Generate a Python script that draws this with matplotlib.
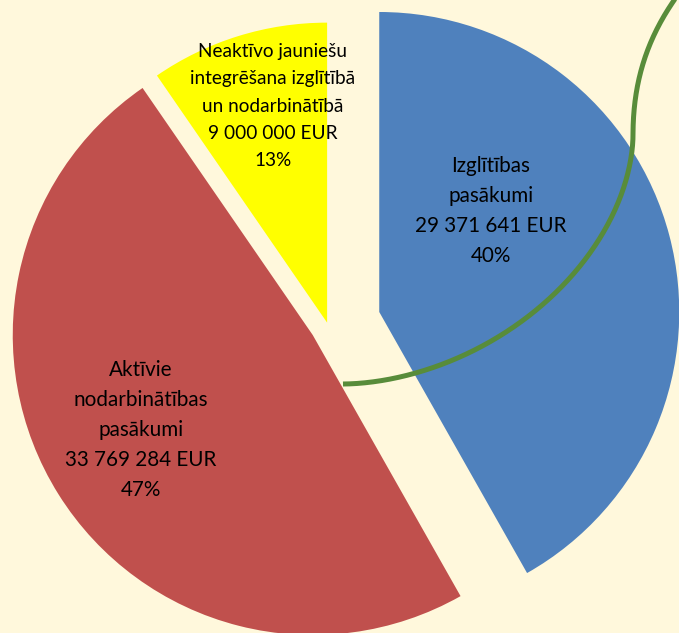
import matplotlib
matplotlib.use('Agg')
import matplotlib.pyplot as plt
import numpy as np

W, H = 679, 633

# data
categories = ['Izglītības\npasākumi',
              'Aktīvie\nnodarbinātības\npasākumi',
              'Neaktīvo jauniešu\nintegrēšana izglītībā\nun nodarbinātībā']
amounts = ['29 371 641 EUR', '33 769 284 EUR', '9 000 000 EUR']
pct_labels = ['40%', '47%', '13%']
# slice sizes as they are drawn in the picture (share of the circle, %)
shares = [41.8, 48.6, 9.6]

colors = ['#4F81BD', '#C0504D', '#FFFF00']
R = 300
explode = [53, 18, 3]          # offsets in pixels
BG = '#FFF8DC'
GREEN = '#588C3A'

# label centres in pixel coords (from top-left), font sizes, line spacing
label_px = [(491, 211), (141, 430), (273, 106)]
label_fs = [14.9, 14.9, 13.7]
label_ls = [1.63, 1.63, 1.75]

fig = plt.figure(figsize=(W / 100, H / 100), dpi=100, facecolor=BG)
ax = fig.add_axes([0, 0, 1, 1])

ax.pie(shares, colors=colors, explode=explode, startangle=90,
       counterclock=False, radius=R, center=(328, H - 325.5),
       wedgeprops=dict(linewidth=0), frame=False)

for cat, amt, pct, (x, y), fs, ls in zip(categories, amounts, pct_labels,
                                         label_px, label_fs, label_ls):
    ax.text(x, H - y, f'{cat}\n{amt}\n{pct}', ha='center', va='center',
            multialignment='center', fontsize=fs, linespacing=ls,
            family=['Lato', 'DejaVu Sans'], color='black', zorder=6)

# decorative connector: lower part a superellipse quarter,
# upper part a cubic Bezier (pixel coords from top-left)
t = np.linspace(np.pi / 2, 0, 200)
n = 1.83
lx = 343 + 290 * np.cos(t) ** (2 / n)
ly = 135 + 249 * np.sin(t) ** (2 / n)
P = np.array([(633, 135), (633, 80), (648, 35), (680, -8)], float)
s = np.linspace(0, 1, 100)[:, None]
bz = ((1 - s) ** 3 * P[0] + 3 * (1 - s) ** 2 * s * P[1]
      + 3 * (1 - s) * s ** 2 * P[2] + s ** 3 * P[3])
cx = np.concatenate([lx, bz[:, 0]])
cy = np.concatenate([ly, bz[:, 1]])
ax.plot(cx, H - cy, color=GREEN, lw=3.6, solid_capstyle='butt',
        solid_joinstyle='round', zorder=5)

ax.set_xlim(0, W)
ax.set_ylim(0, H)
ax.set_aspect('equal')
ax.axis('off')

fig.savefig('out.png', dpi=100, facecolor=BG)
